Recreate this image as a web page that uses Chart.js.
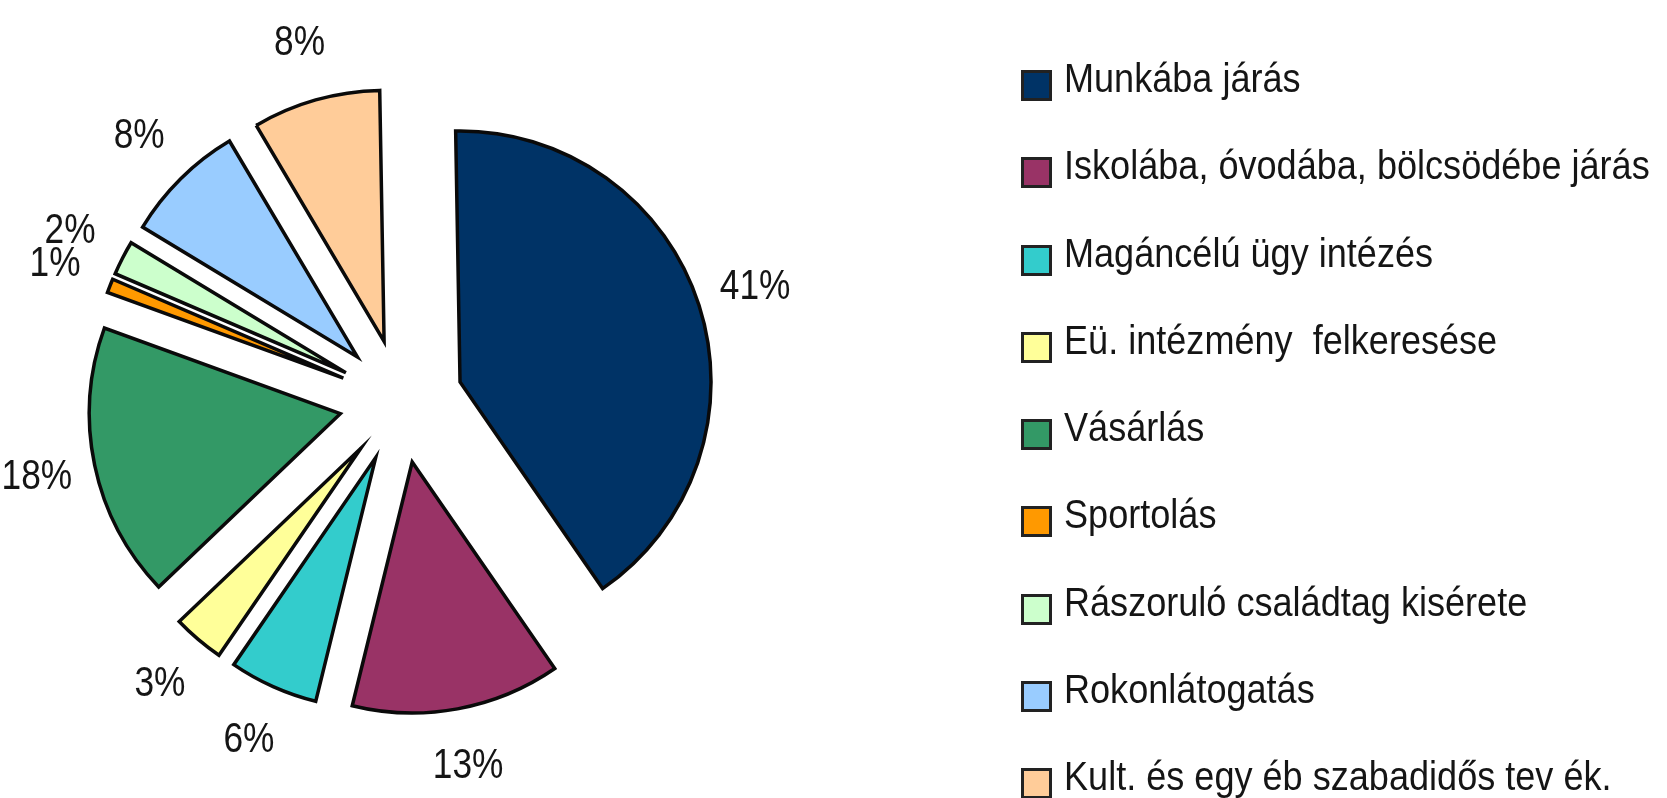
<!DOCTYPE html>
<html>
<head>
    <meta charset="utf-8">
    <title>Utazási célok megoszlása</title>
    <script src="https://cdn.jsdelivr.net/npm/chart.js"></script>
    <style>
        html, body {
            margin: 0;
            padding: 0;
            background: #fff;
            overflow: hidden;
        }
        .chart-wrap {
            position: absolute;
            left: 0;
            top: 0;
            width: 1667px;
            height: 798px;
        }
        #legend {
            position: absolute;
            left: 0;
            top: 0;
            width: 1667px;
            height: 798px;
            pointer-events: none;
            font-family: "Liberation Sans", Arial, sans-serif;
        }
        .lg-row {
            position: absolute;
            left: 1021px;
            height: 44px;
            white-space: nowrap;
        }
        .lg-box {
            position: absolute;
            left: 0;
            top: 12px;
            width: 25px;
            height: 25px;
            border: 3.5px solid #222;
        }
        .lg-text {
            position: absolute;
            left: 43px;
            top: 0;
            font-size: 41px;
            line-height: 40px;
            color: #151515;
            white-space: pre;
            transform: scaleX(0.88);
            transform-origin: left center;
        }
    </style>
</head>
<body>
<div class="chart-wrap">
    <canvas id="pieChart"></canvas>
</div>
<div id="legend"></div>

<script>
    // kategóriák és értékek (%)
    const labels = [
        'Munkába járás',
        'Iskolába, óvodába, bölcsödébe járás',
        'Magáncélú ügy intézés',
        'Eü. intézmény  felkeresése',
        'Vásárlás',
        'Sportolás',
        'Rászoruló családtag kisérete',
        'Rokonlátogatás',
        'Kult. és egy éb szabadidős tev ék.'
    ];
    const values = [40.5, 13.4, 5.7, 3.3, 17.6, 0.9, 2.2, 7.8, 8.2];
    const colors = ['#003366', '#993366', '#33CCCC', '#FFFF99', '#339966', '#FF9900', '#CCFFCC', '#99CCFF', '#FFCC99'];

    const EXPLODE = 62;      // szeletek kihúzása
    const LABEL_DIST = 372;  // címkék távolsága a középponttól

    const total = values.reduce((a, b) => a + b, 0);

    // kihúzott szeletek rajzolása
    const explodePlugin = {
        id: 'explode',
        beforeDatasetDraw(chart, args) {
            const ctx = chart.ctx;
            args.meta.data.forEach(arc => {
                const mid = (arc.startAngle + arc.endAngle) / 2;
                ctx.save();
                ctx.translate(Math.cos(mid) * EXPLODE, Math.sin(mid) * EXPLODE);
                arc.draw(ctx);
                ctx.restore();
            });
            return false;
        }
    };

    // százalék címkék
    const pctLabels = {
        id: 'pctLabels',
        afterDatasetsDraw(chart) {
            const ctx = chart.ctx;
            const meta = chart.getDatasetMeta(0);
            ctx.save();
            ctx.font = '42px "Liberation Sans", Arial, sans-serif';
            ctx.fillStyle = '#151515';
            ctx.textAlign = 'center';
            ctx.textBaseline = 'middle';
            meta.data.forEach((arc, i) => {
                const mid = (arc.startAngle + arc.endAngle) / 2;
                const x = arc.x + Math.cos(mid) * LABEL_DIST;
                const y = arc.y + Math.sin(mid) * LABEL_DIST;
                const txt = Math.round(values[i] / total * 100) + '%';
                ctx.save();
                ctx.translate(x, y);
                ctx.scale(0.84, 1);
                ctx.fillText(txt, 0, 0);
                ctx.restore();
            });
            ctx.restore();
        }
    };

    new Chart(document.getElementById('pieChart'), {
        type: 'pie',
        data: {
            labels: labels,
            datasets: [{
                data: values,
                backgroundColor: colors,
                borderColor: '#0a0a0a',
                borderWidth: 3.5,
                borderJoinStyle: 'miter'
            }]
        },
        options: {
            responsive: true,
            maintainAspectRatio: false,
            animation: false,
            radius: 251,
            rotation: -1,
            layout: {
                padding: { left: 0, right: 865, top: 4, bottom: 0 }
            },
            plugins: {
                legend: { display: false },
                tooltip: { enabled: false }
            }
        },
        plugins: [explodePlugin, pctLabels]
    });

    // jelmagyarázat
    const legendEl = document.getElementById('legend');
    labels.forEach((name, i) => {
        const row = document.createElement('div');
        row.className = 'lg-row';
        row.style.top = (58 + i * 87.25) + 'px';
        const box = document.createElement('div');
        box.className = 'lg-box';
        box.style.background = colors[i];
        const txt = document.createElement('div');
        txt.className = 'lg-text';
        txt.textContent = name;
        row.appendChild(box);
        row.appendChild(txt);
        legendEl.appendChild(row);
    });
</script>
</body>
</html>
